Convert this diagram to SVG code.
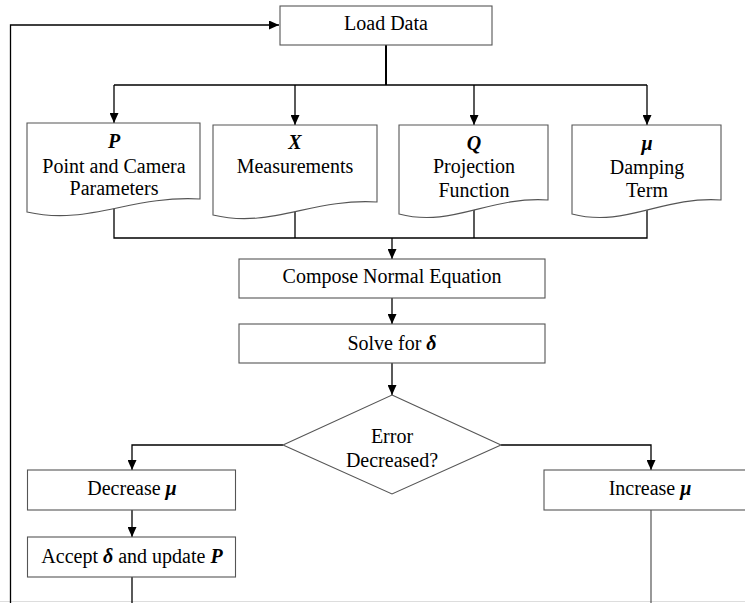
<svg xmlns="http://www.w3.org/2000/svg" width="745" height="603" viewBox="0 0 745 603">
<defs>
<style>
.box{fill:#fff;stroke:#555;stroke-width:1.1}
.ln{fill:none;stroke:#000;stroke-width:1.3}
.t{font-family:"Liberation Serif","Times New Roman",serif;font-size:20px;fill:#000;text-anchor:middle}
.v{font-weight:bold;font-style:italic}
</style>
<marker id="ah" markerUnits="userSpaceOnUse" markerWidth="10" markerHeight="9" refX="10" refY="4.5" orient="auto">
<path d="M0,0 L10,4.5 L0,9 z" fill="#000"/>
</marker>
</defs>
<rect width="745" height="603" fill="#fff"/>
<line x1="0" y1="601.5" x2="745" y2="601.5" stroke="#ddd" stroke-width="1"/>
<g id="connectors">
<path class="ln" d="M10.5,603 V25 H279" marker-end="url(#ah)"/>
<path class="ln" d="M386,45 V85" style="stroke-width:2"/>
<path class="ln" d="M114,85 H647"/>
<path class="ln" d="M114,85 V123" marker-end="url(#ah)"/>
<path class="ln" d="M295,85 V125" marker-end="url(#ah)"/>
<path class="ln" d="M474,85 V125" marker-end="url(#ah)"/>
<path class="ln" d="M647,85 V125" marker-end="url(#ah)"/>
<path class="ln" d="M114,200 V238 H647 V200"/>
<path class="ln" d="M295,200 V238"/>
<path class="ln" d="M474,200 V238"/>
<path class="ln" d="M392,238 V259" marker-end="url(#ah)"/>
<path class="ln" d="M392,298 V324" marker-end="url(#ah)"/>
<path class="ln" d="M392,363 V395" marker-end="url(#ah)"/>
<path class="ln" d="M283,445 H132 V470" marker-end="url(#ah)"/>
<path class="ln" d="M501,445 H651 V470" marker-end="url(#ah)"/>
<path class="ln" d="M132,510 V537" marker-end="url(#ah)"/>
<path class="ln" d="M132,577 V603"/>
<path class="ln" d="M651,510 V603" style="stroke:#444;stroke-width:1.1"/>
</g>
<g id="load-data">
<rect class="box" x="280" y="6" width="212" height="39"/>
<text class="t" x="386" y="30">Load Data</text>
</g>
<g id="p-params">
<path class="box" d="M27,123 H200 V199 C131,195 88,226 27,212 Z"/>
<text class="t" x="114" y="148"><tspan class="v">P</tspan></text>
<text class="t" x="114" y="172.5">Point and Camera</text>
<text class="t" x="114" y="195">Parameters</text>
</g>
<g id="x-measurements">
<path class="box" d="M213,125 H377 V202 C312,198 271,229 213,215 Z"/>
<text class="t" x="295" y="149"><tspan class="v">X</tspan></text>
<text class="t" x="295" y="173">Measurements</text>
</g>
<g id="q-projection">
<path class="box" d="M399,125 H548 V200 C489,196 452,228 399,214 Z"/>
<text class="t" x="474" y="150"><tspan class="v">Q</tspan></text>
<text class="t" x="474" y="173">Projection</text>
<text class="t" x="474" y="196.5">Function</text>
</g>
<g id="mu-damping">
<path class="box" d="M572,125 H721 V200 C662,196 625,228 572,214 Z"/>
<text class="t" x="647" y="150"><tspan class="v">μ</tspan></text>
<text class="t" x="647" y="174">Damping</text>
<text class="t" x="647" y="196.5">Term</text>
</g>
<g id="compose">
<rect class="box" x="239" y="259" width="306" height="39"/>
<text class="t" x="392" y="283">Compose Normal Equation</text>
</g>
<g id="solve">
<rect class="box" x="239" y="324" width="306" height="39"/>
<text class="t" x="392" y="350">Solve for <tspan class="v">δ</tspan></text>
</g>
<g id="error-decreased">
<path class="box" d="M392,395 L501,445 L392,494 L283,445 Z"/>
<text class="t" x="392" y="443">Error</text>
<text class="t" x="392" y="466.5">Decreased?</text>
</g>
<g id="decrease-mu">
<rect class="box" x="27.5" y="470" width="208" height="40"/>
<text class="t" x="132" y="495">Decrease <tspan class="v">μ</tspan></text>
</g>
<g id="accept">
<rect class="box" x="27.5" y="537" width="208" height="40"/>
<text class="t" x="132" y="563">Accept <tspan class="v">δ</tspan> and update <tspan class="v">P</tspan></text>
</g>
<g id="increase-mu">
<rect class="box" x="544" y="470" width="210" height="40"/>
<text class="t" x="650" y="495">Increase <tspan class="v">μ</tspan></text>
</g>
</svg>
